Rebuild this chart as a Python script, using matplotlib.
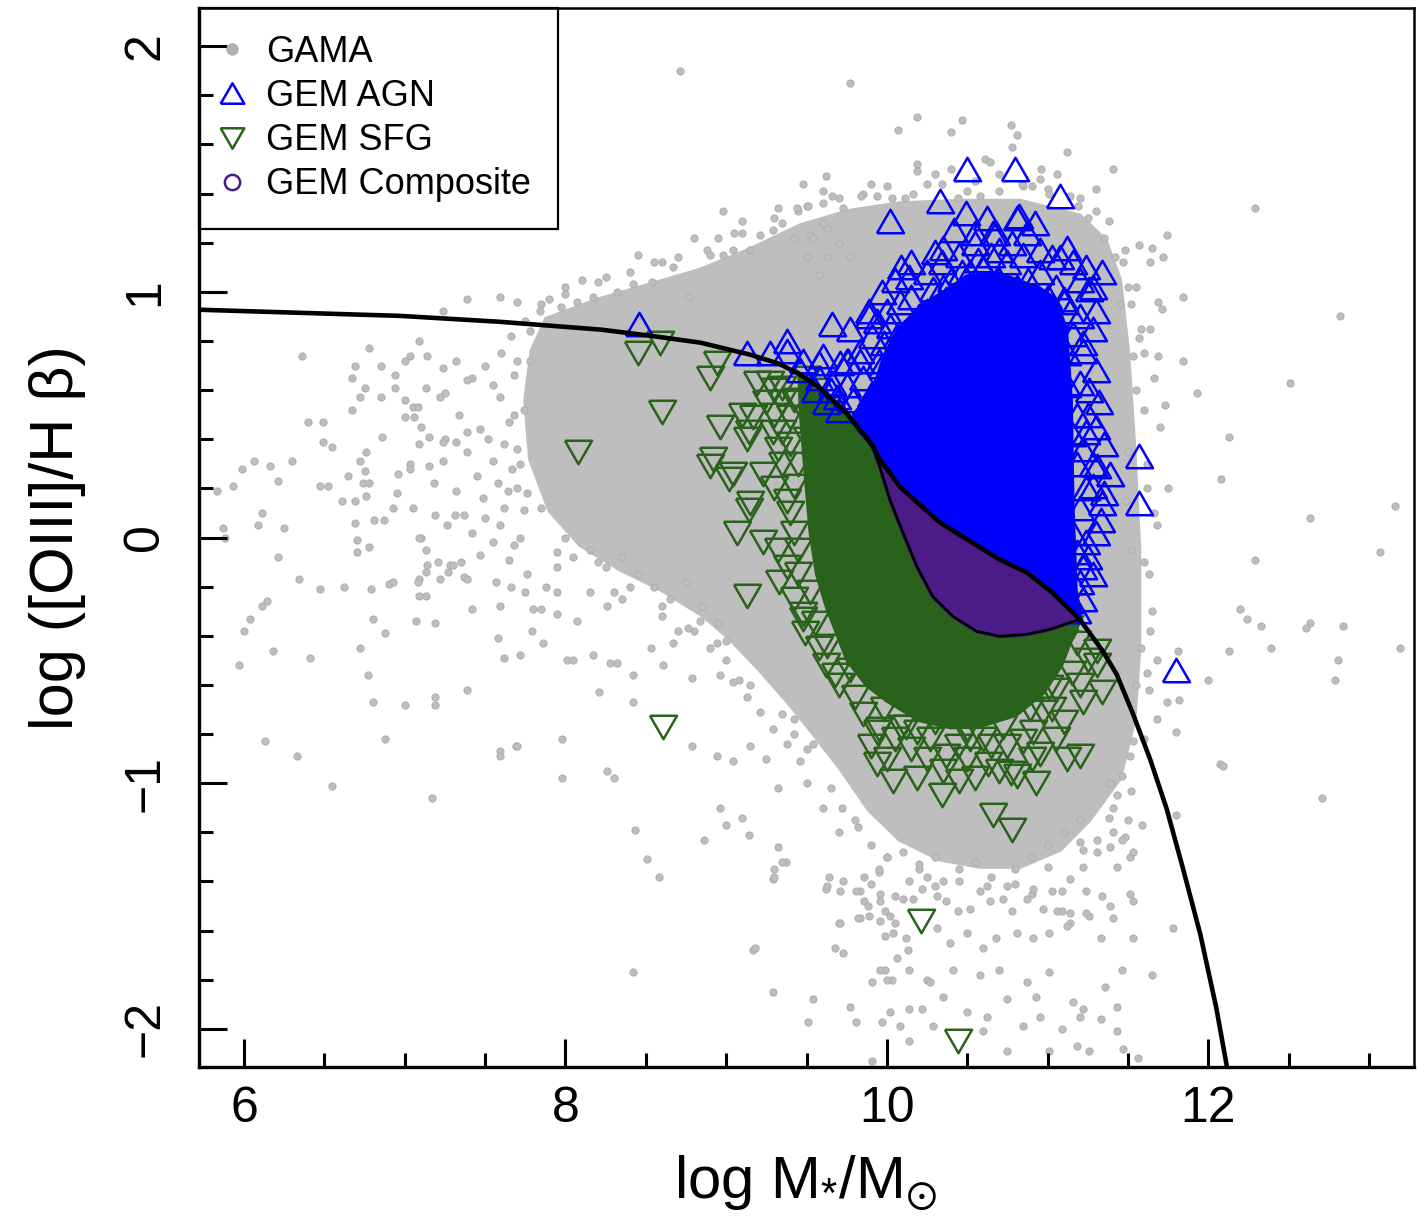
import numpy as np
import matplotlib
matplotlib.use('Agg')
import matplotlib.pyplot as plt
from matplotlib.lines import Line2D
from matplotlib.patches import Polygon

plt.rcParams['font.family'] = ['Liberation Sans', 'DejaVu Sans']
plt.rcParams['mathtext.fontset'] = 'custom'
plt.rcParams['mathtext.rm'] = 'Liberation Sans'
plt.rcParams['mathtext.it'] = 'Liberation Sans'
plt.rcParams['mathtext.fallback'] = 'stix'

# ---------------- data ----------------
# demarcation curves (log M*, log [OIII]/Hb)
upper_x = [5.72, 6.97, 7.59, 8.22, 8.53, 8.84, 9.15, 9.33, 9.46, 9.57, 9.66, 9.75, 9.83, 9.87,
           9.907, 9.956, 10.00, 10.08, 10.19, 10.33, 10.50, 10.70, 10.87, 11.03, 11.20, 11.34,
           11.43, 11.53, 11.64, 11.74, 11.84, 11.95, 12.05, 12.115]
upper_y = [0.927, 0.902, 0.878, 0.846, 0.821, 0.793, 0.744, 0.707, 0.663, 0.615, 0.561, 0.505,
           0.439, 0.410, 0.378, 0.317, 0.280, 0.207, 0.142, 0.061, -0.008, -0.089, -0.142,
           -0.224, -0.333, -0.459, -0.557, -0.715, -0.906, -1.102, -1.341, -1.614, -1.915, -2.150]
lower_x = [9.907, 9.956, 10.019, 10.10, 10.187, 10.286, 10.411, 10.56, 10.703, 10.871, 11.014, 11.20]
lower_y = [0.378, 0.289, 0.154, 0.020, -0.118, -0.240, -0.321, -0.382, -0.402, -0.394, -0.374, -0.333]

# dense (fully overlapping) part of the GAMA cloud
gama_core_x = [7.88, 8.21, 8.53, 8.84, 9.14, 9.46, 9.77, 10.08, 10.45, 10.83, 11.20, 11.36, 11.45,
               11.50, 11.54, 11.57, 11.57, 11.54, 11.45, 11.26, 11.08, 10.83, 10.58, 10.33, 10.08,
               9.89, 9.71, 9.52, 9.41, 9.21, 9.02, 8.86, 8.59, 8.34, 8.09, 7.90, 7.78, 7.75, 7.79]
gama_core_y = [0.89, 0.97, 1.03, 1.09, 1.17, 1.27, 1.33, 1.36, 1.37, 1.37, 1.31, 1.21, 1.05,
               0.76, 0.36, -0.05, -0.46, -0.74, -0.98, -1.15, -1.27, -1.34, -1.34, -1.31, -1.23,
               -1.11, -0.94, -0.78, -0.69, -0.54, -0.41, -0.32, -0.21, -0.13, -0.03, 0.11, 0.32, 0.56, 0.76]

gama_edge = [(7.85,0.95),(8.00,0.99),(8.20,1.04),(8.40,1.08),(8.55,1.12),(8.70,1.14),(8.90,1.15),(9.10,1.24),
    (9.30,1.30),(9.45,1.33),(9.70,1.38),(9.85,1.40),(10.00,1.43),(10.25,1.44),(10.55,1.45),(10.85,1.43),
    (11.00,1.42),(11.20,1.38),(11.38,1.29),(11.48,1.17),(11.55,1.02),(11.58,0.85),(11.60,0.52),(11.62,0.20),
    (11.63,-0.15),(11.64,-0.38),(11.63,-0.62),(11.60,-0.82),(11.52,-1.03),(11.38,-1.14),(11.20,-1.24),
    (11.00,-1.34),(10.80,-1.41),(10.62,-1.42),(10.45,-1.40),(10.20,-1.35),(10.00,-1.30),(9.82,-1.18),
    (9.65,-1.02),(9.50,-0.86),(9.35,-0.72),(9.15,-0.60),(9.00,-0.50),(8.80,-0.38),(8.60,-0.28),(8.40,-0.20),
    (8.20,-0.10),(8.00,0.00),(7.85,0.12),(7.72,0.30),(7.68,0.50),(7.70,0.72),(7.78,0.84),(8.10,1.05),
    (8.45,1.15),(8.95,1.22),(9.60,1.41),(10.40,1.50),(10.70,1.48),(11.30,1.33),(11.66,0.65),(11.68,0.05),
    (11.68,-0.50),(11.48,-1.22),(10.90,-1.45),(10.30,-1.42),(9.95,-1.36),(9.72,-1.10),(9.42,-0.80),
    (9.08,-0.58),(8.70,-0.38),(8.30,-0.22),(7.95,-0.06),(7.76,0.18)]

gama_left = [(6.36,0.74),(6.69,0.70),(6.78,0.77),(6.67,0.65),(6.85,0.70),(6.94,0.66),(7.00,0.72),(7.09,0.80),
    (7.14,0.74),(6.75,0.61),(6.72,0.57),(6.67,0.52),(6.85,0.57),(6.94,0.61),(7.00,0.56),(7.05,0.53),(7.13,0.61),
    (7.25,0.59),(7.32,0.72),(7.42,0.65),(6.40,0.47),(6.49,0.47),(6.49,0.39),(6.55,0.37),(6.76,0.35),(6.86,0.41),
    (7.00,0.49),(7.06,0.49),(7.10,0.45),(7.15,0.41),(7.25,0.40),(7.32,0.39),(7.39,0.43),(6.06,0.31),(5.99,0.28),
    (6.16,0.29),(6.30,0.31),(6.21,0.23),(5.93,0.21),(5.83,0.19),(6.47,0.21),(6.52,0.21),(6.72,0.31),(6.75,0.27),
    (6.65,0.25),(6.74,0.22),(6.78,0.22),(6.61,0.15),(6.69,0.15),(6.76,0.17),(6.96,0.26),(7.03,0.30),(7.15,0.29),
    (7.24,0.31),(6.93,0.12),(7.05,0.12),(6.95,0.18),(6.11,0.10),(6.09,0.05),(5.87,0.04),(5.88,0.00),(6.25,0.04),
    (6.69,0.06),(6.81,0.07),(6.87,0.07),(6.70,-0.01),(6.78,-0.04),(6.70,-0.06),(7.13,-0.05),(7.10,0.00),(7.19,0.09),
    (7.31,0.09),(7.37,0.09),(7.21,-0.10),(7.28,-0.11),(7.35,-0.10),(7.37,-0.16),(7.27,-0.14),(7.13,-0.14),
    (7.09,-0.17),(6.21,-0.08),(6.34,-0.17),(6.47,-0.21),(6.62,-0.20),(6.79,-0.21),(6.90,-0.19),(6.93,-0.18),
    (7.13,-0.24),(7.09,-0.24),(6.14,-0.26),(6.11,-0.28),(6.04,-0.33),(6.00,-0.38),(6.80,-0.33),(6.88,-0.39),
    (7.07,-0.34),(7.19,-0.35),(6.18,-0.46),(6.41,-0.49),(6.72,-0.45),(6.77,-0.56),(7.58,-0.41),(7.62,-0.49),
    (7.72,-0.48),(7.79,-0.38),(7.85,-0.29),(7.39,-0.62),(7.19,-0.65),(7.19,-0.68),(7.00,-0.68),(6.80,-0.67),
    (5.97,-0.52),(6.13,-0.83),(6.33,-0.89),(6.88,-0.82),(7.59,-0.87),(7.69,-0.85),(6.55,-1.01),(7.17,-1.06)]

gama_wing = [(7.03,0.74),(7.24,0.69),(7.39,0.64),(7.08,0.53),(7.22,0.57),(7.34,0.50),(7.47,0.44),(7.59,0.57),
    (7.65,0.47),(7.09,0.38),(7.24,0.39),(7.39,0.35),(7.55,0.31),(7.67,0.28),(7.03,0.28),(7.18,0.22),(7.32,0.19),
    (7.49,0.16),(7.64,0.19),(7.74,0.11),(7.09,0.00),(7.26,0.05),(7.42,0.02),(7.59,0.05),(7.72,0.00),(7.14,-0.11),
    (7.30,-0.11),(7.47,-0.07),(7.65,-0.09),(7.08,-0.18),(7.22,-0.17),(7.39,-0.17),(7.57,-0.18),(7.76,-0.15),
    (7.42,-0.29),(7.59,-0.28),(7.80,-0.29),(7.95,-0.31),(8.07,-0.34),(8.26,-0.28),(7.59,0.98),(7.39,0.97),
    (7.24,0.92),(7.70,0.96),(7.84,0.92),(7.97,0.94),(8.07,0.96),(8.17,0.98),(8.32,1.00),(8.42,1.03),(8.54,1.04),
    (8.67,1.10),(8.77,0.98),(8.88,1.17),(8.98,1.15),(9.04,1.17),(9.15,1.17),(9.21,1.23),(9.29,1.25),(9.42,1.22),
    (9.52,1.23),(9.63,1.26),(9.32,1.34),(9.44,1.34),(9.50,1.35),(9.60,1.28),(8.98,1.33),(9.10,1.29),
    (7.50,0.70),(7.60,0.75),(7.68,0.66),(7.55,0.62),(7.62,0.38),(7.70,0.36),(7.52,0.40),(7.45,0.25),(7.58,0.22),
    (7.70,0.20),(7.50,0.08),(7.62,0.12),(7.68,-0.03),(7.55,-0.02),(7.75,-0.22),(7.66,-0.20),(7.88,-0.20),
    (7.95,-0.12),(8.05,-0.08),(8.15,-0.05),(8.25,-0.12),(8.35,-0.08),(8.45,-0.15),(8.55,-0.20),(8.65,-0.25),
    (8.75,-0.18),(8.85,-0.28),(8.95,-0.35),(9.00,-0.42),(8.90,-0.45),(8.60,-0.32),(8.35,-0.25),(8.15,-0.22),
    (7.95,-0.22),(7.74,0.52),(7.78,0.72),(7.66,0.82),(7.75,0.88),(7.90,0.97),(8.00,1.02),(8.25,1.06),(8.60,1.12),
    (8.80,1.22),(9.35,1.28),(9.05,1.24)]

gama_bottom = [(7.86,-0.43),(8.01,-0.50),(8.17,-0.48),(8.32,-0.51),(8.42,-0.56),(8.53,-0.45),(8.61,-0.52),
    (8.67,-0.43),(8.76,-0.37),(8.84,-0.34),(8.94,-0.43),(8.96,-0.56),(9.04,-0.59),(9.13,-0.65),(9.21,-0.71),
    (9.29,-0.78),(9.38,-0.84),(8.79,-0.57),(8.28,-0.51),(8.42,-0.67),(8.21,-0.63),(7.98,-0.82),(8.05,-0.50),
    (7.70,-0.85),(7.59,-0.89),(8.26,-0.95),(8.30,-0.98),(8.79,-0.85),(8.94,-0.89),(9.04,-0.91),(9.15,-0.85),
    (9.25,-0.90),(9.32,-1.02),(9.46,-0.91),(9.54,-0.84),(9.42,-0.74),(7.98,-0.98),(8.43,-1.19),(8.51,-1.31),
    (8.58,-1.38),(8.86,-1.23),(8.96,-1.10),(9.00,-1.17),(9.10,-1.14),(9.14,-1.21),(9.32,-1.26),(9.37,-1.32),
    (9.30,-1.35),(9.29,-1.39),(9.17,-1.68),(8.42,-1.77),(9.29,-1.85),(9.54,-1.88),(9.51,-1.97),(9.70,-1.57),
    (9.68,-1.67),(9.73,-1.69),(9.81,-1.97),(9.91,-2.13),(9.97,-1.97),(10.02,-1.93),(10.14,-1.92),(10.29,-1.99),
    (10.14,-2.05),(9.91,-1.81),(10.03,-1.80),(10.25,-1.80),(9.99,-1.76),(10.13,-1.68),(10.06,-1.71),(9.99,-1.62),
    (10.05,-1.57),(9.99,-1.52),(9.89,-1.54),(9.83,-1.55),(9.64,-1.38),(9.73,-1.40),(9.62,-1.43),(9.86,-1.38),
    (9.90,-1.41),(9.96,-1.45),(9.83,-1.44),(10.05,-1.46),(10.14,-1.40),
    (9.90,-1.25),(10.00,-1.30),(10.10,-1.28),(10.20,-1.33),(10.30,-1.30),(10.45,-1.35),(10.55,-1.32),
    (10.65,-1.38),(10.80,-1.35),(10.90,-1.30),(11.00,-1.25),(11.10,-1.20),(11.20,-1.15),(10.35,-1.40),
    (10.75,-1.42),(10.25,-1.38),(9.95,-1.35),(9.70,-1.20),(9.60,-1.10),(9.50,-1.00),(9.80,-1.15),
    (9.30,-1.38),(9.35,-1.32),(9.63,-1.42),(9.71,-1.44),(9.81,-1.44),(9.86,-1.48),(9.96,-1.48),(9.96,-1.56),
    (9.71,-1.57),(9.82,-1.55),(9.88,-1.50),(10.02,-1.54),(10.10,-1.47),(10.16,-1.47),(10.22,-1.43),(10.31,-1.46),
    (10.37,-1.48),(10.44,-1.52),(10.52,-1.51),(10.58,-1.44),(10.64,-1.48),(10.72,-1.47),(10.78,-1.52),
    (10.87,-1.47),(10.91,-1.43),(10.97,-1.51),(11.03,-1.44),(11.09,-1.52),(11.14,-1.57),(11.24,-1.44),
    (11.34,-1.46),(11.39,-1.50),(11.53,-1.48),(11.26,-1.54),(10.04,-1.61),(10.12,-1.63),(10.31,-1.59),
    (10.39,-1.65),(10.50,-1.61),(10.60,-1.67),(10.68,-1.63),(10.81,-1.61),(10.91,-1.63),(11.01,-1.61),
    (11.12,-1.58),(11.33,-1.63),(11.53,-1.63),(9.96,-1.76),(10.00,-1.80),(10.14,-1.76),(10.27,-1.81),
    (10.41,-1.76),(10.58,-1.78),(10.70,-1.76),(10.87,-1.81),(10.93,-1.87),(11.01,-1.77),(11.16,-1.89),
    (11.20,-1.95),(11.33,-1.96),(11.43,-1.91),(10.22,-1.92),(10.35,-1.87),(10.50,-1.93),(10.62,-1.95),
    (10.75,-1.88),(10.85,-1.99),(10.95,-1.95),(9.77,-1.91),(10.08,-1.99),(10.60,-2.01),(10.75,-2.09),
    (11.01,-2.09),(11.26,-2.09),(11.43,-2.01),(11.56,-2.12),(9.18,-1.67),(11.59,-1.17),(11.51,-1.30),
    (11.39,-1.26),(11.43,-1.34),(11.31,-1.23),(11.22,-1.27)]

gama_right = [(12.20,-0.29),(12.24,-0.33),(12.33,-0.36),(12.63,-0.35),(12.61,-0.37),(12.84,-0.36),(12.39,-0.45),
    (12.13,-0.46),(12.00,-0.58),(11.81,-0.46),(11.82,-0.66),(11.74,-0.67),(11.68,-0.74),(11.80,-0.79),
    (12.07,-0.92),(12.09,-0.93),(12.81,-0.50),(12.79,-0.58),(13.19,-0.45),(12.71,-1.06),(11.80,-1.13),
    (11.53,-1.28),(11.78,-1.59),(11.65,-1.78),(11.46,-1.76),(11.47,-2.08),(11.18,-2.07),(11.09,-2.00),
    (11.22,-1.92),(11.36,-1.83),(11.51,-1.45),(11.41,-1.55),(11.46,-1.23),(11.41,-1.20),(11.50,-1.15),
    (11.31,-1.28),(11.22,-1.34),(11.14,-1.39),(11.09,-1.44),(11.24,-1.53),(11.14,-1.53),(11.06,-1.52),
    (11.53,-0.83),(11.51,-0.89),(11.46,-0.97),(11.39,-1.00),(11.43,-1.05),(11.41,-1.10),
    (12.82,0.90),(13.16,0.13),(12.63,0.08),(13.07,-0.06),(12.29,1.34),(12.08,0.24),(11.73,0.54),(11.84,0.98),
    (12.13,0.41),(12.51,0.63),(12.29,-0.09),(11.74,1.23),(11.62,0.30),(11.66,0.10),(11.60,-0.10),(11.70,0.45),
    (11.65,-0.30),(11.75,0.20),(11.55,0.60),(11.58,-0.45),(11.52,0.95),(11.60,0.75),(11.55,-0.60),(11.50,0.35),
    (11.52,-0.05),(11.49,0.15),(11.62,-0.55)]

gama_top = [(10.19,1.71),(10.47,1.70),(10.77,1.68),(10.81,1.64),(10.07,1.66),(10.40,1.65),(10.78,1.59),
    (11.12,1.57),(10.61,1.54),(10.64,1.53),(10.19,1.52),(10.19,1.49),(10.30,1.48),(10.96,1.50),(10.95,1.46),
    (11.06,1.48),(11.41,1.50),(9.48,1.44),(9.62,1.47),(9.90,1.44),(9.66,1.39),(9.84,1.39),(9.94,1.39),
    (10.03,1.38),(10.16,1.40),(10.11,1.38),(10.34,1.44),(10.44,1.38),(10.50,1.41),(10.58,1.39),(10.70,1.41),
    (10.84,1.44),(10.90,1.43),(11.01,1.40),(11.14,1.39),(11.19,1.35),(11.57,1.19),(11.65,1.18),(11.72,1.14),
    (11.64,1.12),(11.47,1.12),(11.42,1.14),(11.69,0.96),(11.71,0.93),(11.64,0.85),(11.57,0.81),(11.53,0.74),
    (11.69,0.74),(11.84,0.72),(11.93,0.59),(9.51,1.35),(9.60,1.36),(9.73,1.34),(9.54,1.22),(9.50,1.14),
    (9.63,1.14),(9.58,1.07),(9.70,1.20),(9.77,1.14),(8.71,1.90),(9.77,1.85),(11.25,1.30),(11.35,1.22),
    (11.30,1.42),(11.50,1.02),(11.45,0.95)]

# GEM AGN: solid overlapping core + individual triangles
agn_core_x = [11.17, 11.15, 11.14, 11.11, 11.04, 10.95, 10.70, 10.50, 10.39, 10.22, 10.08, 9.99, 9.94, 9.88, 9.80]
agn_core_y = [-0.21, 0.15, 0.56, 0.85, 0.97, 1.01, 1.07, 1.06, 1.01, 0.94, 0.85, 0.74, 0.64, 0.56, 0.50]
agn_pts = [(10.50,1.50),(10.80,1.50),(11.08,1.39),(10.33,1.37),(10.02,1.29),(10.49,1.32),(10.82,1.31),
    (10.55,1.24),(10.68,1.24),(10.87,1.24),(10.30,1.16),(10.34,1.12),(10.09,1.10),(10.14,1.06),(10.57,1.13),
    (10.70,1.17),(10.78,1.20),(11.08,1.14),(11.16,1.12),(11.24,1.10),(11.34,1.08),(11.28,1.02),(9.97,1.00),
    (10.08,0.96),(9.89,0.92),(9.66,0.87),(9.77,0.85),(9.60,0.74),(9.76,0.72),(9.48,0.72),(11.10,0.96),
    (11.14,0.92),(11.22,0.79),(11.16,0.83),(10.25,0.92),(10.37,0.97),(10.54,1.02),(10.81,1.02),(10.91,0.97),
    (11.00,0.90),(10.95,0.83),(11.57,0.33),(11.57,0.14),(11.39,0.26),(11.34,0.14),(11.33,0.07),(11.24,-0.02),
    (11.22,-0.12),(11.20,-0.18),(11.24,0.43),(11.22,0.36),(11.20,0.63),(11.22,0.76),(11.26,1.01),(11.10,0.97),
    (11.28,0.21),(11.31,0.29),(11.16,0.02),(11.10,-0.12),(11.16,-0.18),(11.80,-0.54),(8.46,0.87),(9.13,0.75),
    (9.27,0.75),(9.38,0.80),(9.38,0.76),(9.89,0.90),(9.58,0.71),(9.71,0.71),(9.83,0.72),(9.94,0.88),(10.02,0.86),
    (9.98,0.79),(9.69,0.57),(9.79,0.56),(9.88,0.55),(9.46,0.68),(9.58,0.65),(9.66,0.63),(9.65,0.60),(9.75,0.72),
    (9.83,0.76),(9.91,0.82),(9.97,0.70),(10.06,0.82),(10.20,0.90),(10.29,1.01),(10.47,1.08),(10.66,1.24),
    (10.81,1.30),(10.95,1.17),(11.03,1.14),(10.60,1.10),(10.40,1.05),(10.70,1.05),(11.14,-0.26),(11.18,-0.06),
    (11.18,0.50),(10.05,1.05),(10.15,1.12),(10.25,1.08),(10.35,1.18),(10.45,1.15),(10.55,1.20),(10.65,1.15),
    (10.75,1.12),(10.85,1.15),(10.95,1.08),(11.05,1.02),(10.15,0.98),(10.35,1.02),(10.52,1.08),(10.72,0.98),
    (10.88,1.05),(11.00,0.98),(10.00,0.92),(10.20,0.85),(10.10,0.78),(9.95,0.72),(9.85,0.65),(9.75,0.62),
    (9.70,0.52),(9.62,0.55),(9.55,0.60),(9.90,0.58),(10.42,1.25),(10.62,1.30),(10.92,1.28),(11.12,1.18),
    (11.20,1.05),(11.30,0.92),(11.28,0.85),(11.30,0.68),(11.32,0.55),(11.30,0.45),(11.35,0.38),(11.28,0.30),
    (11.35,0.18),(11.30,0.02),(11.25,-0.08),(11.28,-0.15),(11.22,-0.25),(11.18,-0.30),(11.26,0.60),(11.25,0.50),
    (11.15,0.42),(11.18,0.30),(11.20,0.12),(11.12,0.62),(11.12,0.75),(11.20,0.90),(11.24,0.20)]

# GEM SFG: solid overlapping core + individual triangles
sfg_edge_x = [11.15, 11.08, 10.97, 10.80, 10.60, 10.40, 10.20, 10.00, 9.88, 9.76, 9.70, 9.63, 9.57, 9.53, 9.50, 9.47]
sfg_edge_y = [-0.40, -0.52, -0.63, -0.72, -0.76, -0.77, -0.74, -0.66, -0.60, -0.50, -0.40, -0.28, -0.15, 0.02, 0.25, 0.50]
sfg_pts = [(8.45,0.75),(8.59,0.79),(8.08,0.35),(8.60,0.51),(8.90,0.65),(8.94,0.71),(8.96,0.45),(9.10,0.50),
    (9.17,0.49),(9.14,0.43),(9.13,0.40),(9.19,0.63),(9.27,0.63),(9.35,0.61),(8.92,0.32),(8.90,0.29),(9.04,0.26),
    (9.02,0.24),(9.23,0.26),(9.32,0.36),(9.29,0.43),(9.35,0.43),(9.15,0.14),(9.14,0.11),(9.07,0.02),(9.23,-0.02),
    (9.32,-0.05),(9.42,0.02),(9.13,-0.24),(9.33,-0.18),(9.42,-0.25),(9.48,-0.33),(9.49,-0.39),(9.38,0.15),
    (9.42,0.21),(9.40,0.49),(9.42,0.56),(8.61,-0.77),(9.48,-0.31),(9.63,-0.44),(9.68,-0.56),(9.77,-0.54),
    (9.94,-0.79),(9.94,-0.92),(10.04,-0.99),(10.09,-0.77),(10.19,-0.79),(10.19,-0.98),(10.34,-1.05),(10.37,-0.89),
    (10.45,-0.99),(10.44,-0.85),(10.63,-0.92),(10.66,-1.13),(10.78,-1.19),(10.77,-0.96),(10.81,-0.97),
    (10.85,-0.83),(10.93,-1.00),(11.12,-0.90),(11.20,-0.89),(11.22,-0.67),(11.34,-0.63),(11.31,-0.52),
    (11.31,-0.46),(11.18,-0.43),(11.01,-0.61),(10.97,-0.71),(10.91,-0.79),(10.60,-0.82),(10.52,-0.82),
    (10.27,-0.82),(10.12,-0.77),(9.98,-0.70),(11.03,-0.70),(10.89,-0.70),(10.72,-0.77),(10.21,-1.56),(10.44,-2.05),
    (9.55,0.60),(9.60,0.45),(9.60,0.20),(9.65,0.00),(9.70,-0.20),(9.80,-0.35),(9.90,-0.50),(10.00,-0.60),
    (10.20,-0.65),(10.40,-0.70),(10.60,-0.68),(10.80,-0.62),(11.00,-0.50),(11.10,-0.42),(9.50,0.65),(9.45,0.55),
    (9.50,0.40),(9.25,0.55),(9.30,0.50),(9.40,0.38),(9.35,0.30),(9.45,0.30),(9.30,0.20),(9.40,0.10),(9.45,-0.05),
    (9.38,-0.12),(9.45,-0.15),(9.52,-0.22),(9.55,-0.35),(9.58,-0.45),(9.62,-0.52),(9.70,-0.60),(9.80,-0.65),
    (9.85,-0.72),(9.95,-0.78),(10.05,-0.82),(10.15,-0.86),(10.25,-0.90),(10.35,-0.95),(10.50,-0.90),(10.55,-0.98),
    (10.65,-0.85),(10.70,-0.95),(10.75,-0.85),(10.95,-0.88),(11.05,-0.82),(11.10,-0.75),(11.20,-0.60),
    (11.25,-0.50),(11.15,-0.55),(11.05,-0.62),(10.30,-0.75),(10.50,-0.78),(10.90,-0.90),(10.00,-0.90),
    (9.90,-0.85),(9.60,0.10),(9.55,0.30),(9.35,0.55),(9.30,0.60)]

legend_labels = ['GAMA', 'GEM AGN', 'GEM SFG', 'GEM Composite']

# ---------------- styles ----------------
GRAY = '#bebebe'
GRAY_EDGE = '#aeaeae'
BLUE = '#0000ff'
GREEN = '#29621a'
PURPLE = '#4b1c88'

tri_up = [(-1, -0.866), (1, -0.866), (0, 0.866), (-1, -0.866)]
tri_dn = [(-1, 0.866), (1, 0.866), (0, -0.866), (-1, 0.866)]

fig = plt.figure(figsize=(14.26, 12.20), dpi=100)
ax = fig.add_axes([199/1426, (1220-1067)/1220, (1414-199)/1426, (1067-8)/1220])
ax.set_xlim(5.72, 13.28)
ax.set_ylim(-2.155, 2.155)

# GAMA
ax.add_patch(Polygon(np.column_stack([gama_core_x, gama_core_y]), closed=True,
                     facecolor=GRAY, edgecolor=GRAY, lw=3, zorder=1))
for grp in (gama_edge, gama_left, gama_wing, gama_bottom, gama_right, gama_top):
    gx, gy = zip(*grp)
    ax.plot(gx, gy, ls='none', marker='o', ms=5.2, mfc=GRAY, mec=GRAY_EDGE, mew=0.7, zorder=1.5)

ux = np.array(upper_x); uy = np.array(upper_y)
lx = np.array(lower_x); ly = np.array(lower_y)

# SFG core: upper curve (9.46 .. junction) + lower curve + bottom edge
m1 = (ux >= 9.46) & (ux <= 9.907)
sfg_poly = np.vstack([np.column_stack([ux[m1], uy[m1]]),
                      np.column_stack([lx, ly]),
                      np.column_stack([sfg_edge_x, sfg_edge_y])])
ax.add_patch(Polygon(sfg_poly, closed=True, facecolor=GREEN, edgecolor=GREEN, lw=4, zorder=2))
sx, sy = zip(*sfg_pts)
ax.plot(sx, sy, ls='none', marker=tri_dn, ms=19.5, mfc='none', mec=GREEN, mew=1.8, zorder=2.1)

# AGN core: upper curve (9.80 .. 11.2) + right/top edge
m2 = (ux >= 9.80) & (ux <= 11.20)
agn_poly = np.vstack([np.column_stack([ux[m2], uy[m2]]),
                      np.column_stack([agn_core_x, agn_core_y])])
ax.add_patch(Polygon(agn_poly, closed=True, facecolor=BLUE, edgecolor=BLUE, lw=4, zorder=2.2))
ax_, ay_ = zip(*agn_pts)
ax.plot(ax_, ay_, ls='none', marker=tri_up, ms=19.5, mfc='none', mec=BLUE, mew=1.8, zorder=2.3)

# Composite: region between the two curves
m3 = (ux >= 9.907) & (ux <= 11.20)
comp_poly = np.vstack([np.column_stack([ux[m3], uy[m3]]),
                       np.column_stack([lx[::-1], ly[::-1]])])
ax.add_patch(Polygon(comp_poly, closed=True, facecolor=PURPLE, edgecolor=PURPLE, lw=3, zorder=2.4))

# curves
ax.plot(ux, uy, color='black', lw=3.3, zorder=3, solid_joinstyle='round')
ax.plot(lx, ly, color='black', lw=2.0, zorder=3, solid_joinstyle='round')

# axes styling
for side in ('left', 'bottom'):
    ax.spines[side].set_linewidth(2.4)
for side in ('top', 'right'):
    ax.spines[side].set_linewidth(1.8)
ax.set_xticks([6, 8, 10, 12])
ax.set_xticks(np.arange(6.5, 13.01, 0.5), minor=True)
ax.set_yticks([-2, -1, 0, 1, 2])
ax.set_yticks(np.arange(-2.0, 2.01, 0.2), minor=True)
ax.tick_params(axis='both', which='major', direction='in', length=20, width=2.2, labelsize=36)
ax.tick_params(axis='both', which='minor', direction='in', length=10, width=2.2)
ax.tick_params(axis='x', which='major', pad=14)
ax.tick_params(axis='y', which='major', pad=22, labelrotation=90)
for lab in ax.get_yticklabels():
    lab.set_va('center')

ax.set_xlabel(r'log M$_{*}$/M$_{\odot}$', fontsize=43)
ax.xaxis.set_label_coords(0.499, -0.081)
ax.set_ylabel('log ([OIII]/H β)', fontsize=44)
ax.yaxis.set_label_coords(-0.093, 0.5)

handles = [
    Line2D([], [], ls='none', marker='o', ms=8, mfc='#b0b0b0', mec='#b0b0b0'),
    Line2D([], [], ls='none', marker=tri_up, ms=17, mfc='none', mec=BLUE, mew=1.8),
    Line2D([], [], ls='none', marker=tri_dn, ms=17, mfc='none', mec=GREEN, mew=1.8),
    Line2D([], [], ls='none', marker='o', ms=11, mfc='none', mec=PURPLE, mew=1.8),
]
leg = ax.legend(handles, legend_labels, loc='upper left', bbox_to_anchor=(0, 1),
                borderaxespad=0, fontsize=26, frameon=True, fancybox=False,
                edgecolor='black', facecolor='none', framealpha=1,
                handlelength=0.35, handletextpad=0.75, labelspacing=0.25, borderpad=0.75)
leg.get_frame().set_linewidth(1.6)

fig.savefig('out.png', dpi=100)
